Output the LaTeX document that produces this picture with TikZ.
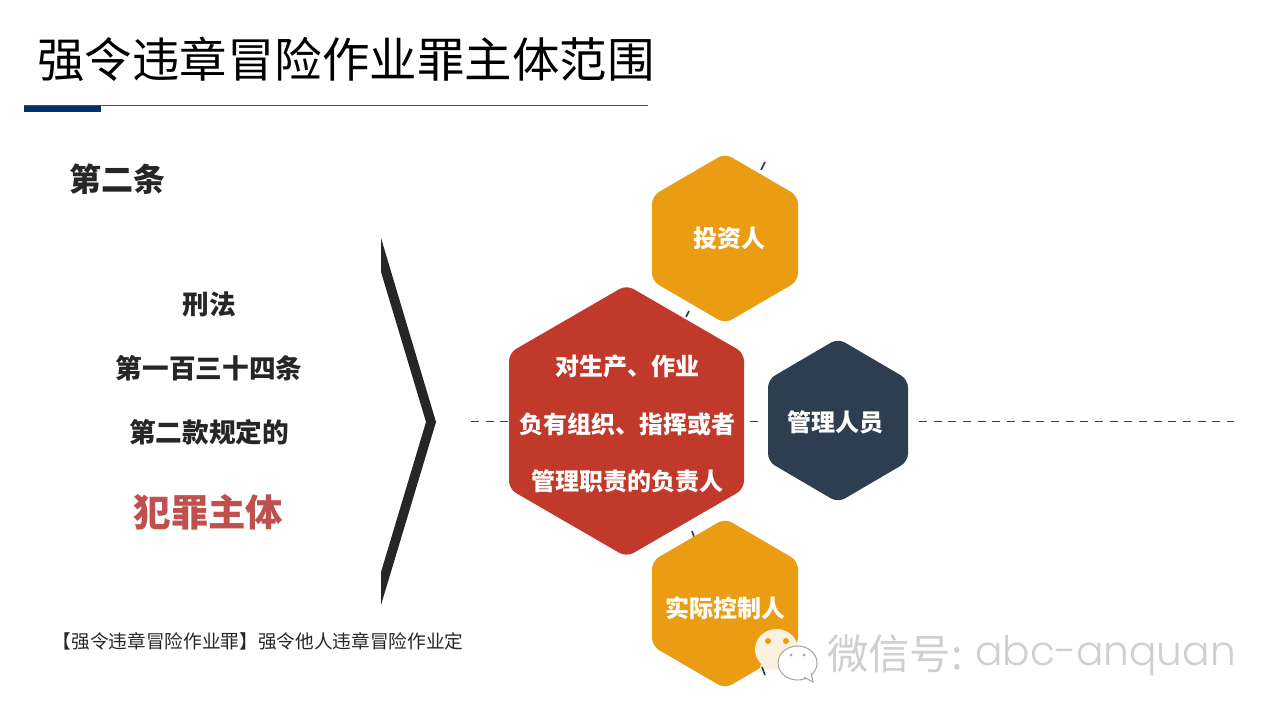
\documentclass[tikz,border=0pt]{standalone}
\usepackage{fontspec}
\setmainfont{Liberation Sans}
\newfontfamily\cjk{Noto Sans CJK SC}
\newfontfamily\latinwm{Poppins Light}
\definecolor{orangehex}{HTML}{EA9C13}
\definecolor{redhex}{HTML}{C0392B}
\definecolor{navyhex}{HTML}{2C3E50}
\definecolor{inkdark}{HTML}{262626}
\definecolor{barblue}{HTML}{002F6C}
\definecolor{crimson}{HTML}{C0504D}
\definecolor{wmgray}{HTML}{CFCFCF}
\definecolor{cream}{HTML}{FBF1DF}
\tikzset{
  x=0.75pt,y=-0.75pt,
  hexfill/.style={fill=#1,rounded corners=6pt,draw=none},
  hexlabel/.style={font=\cjk\bfseries\fontsize{18}{18}\selectfont,text=white,inner sep=0pt},
  bodytext/.style={font=\cjk\bfseries\fontsize{20}{20}\selectfont,text=inkdark,inner sep=0pt},
  tick/.style={draw=navyhex,line width=1.2pt},
  axis/.style={draw=navyhex,line width=1.3pt,dash pattern=on 6pt off 5pt},
}
\newcommand{\hexagon}[5]{% cx cy halfw halfh colour
  \path[hexfill=#5] (#1,#2-#4) -- (#1+#3,#2-#4/2) -- (#1+#3,#2+#4/2) -- (#1,#2+#4) -- (#1-#3,#2+#4/2) -- (#1-#3,#2-#4/2) -- cycle;
}
\begin{document}
\begin{tikzpicture}
\useasboundingbox[fill=white] (0,0) rectangle (1280,720);
% title
\node[anchor=center,inner sep=0pt,text=black,font=\cjk\fontsize{35.6}{36}\selectfont] (title) at (346,59) {强令违章冒险作业罪主体范围};
\draw[draw=black!70,line width=0.75pt] (24,106) -- (648,106);
\fill[barblue] (24,106) rectangle (101,112);
% left text
\node[bodytext,font=\cjk\bfseries\fontsize{24}{24}\selectfont] (art) at (117,179) {第二条};
\node[bodytext] (l1) at (209,304) {刑法};
\node[bodytext] (l2) at (209,368) {第一百三十四条};
\node[bodytext] (l3) at (209,432) {第二款规定的};
\node[bodytext,font=\cjk\bfseries\fontsize{28}{28}\selectfont,text=crimson] (l4) at (208.5,512) {犯罪主体};
\node[inner sep=0pt,text=inkdark,font=\cjk\fontsize{14}{14}\selectfont] (note) at (258,641) {【强令违章冒险作业罪】强令他人违章冒险作业定};
% chevron
\fill[inkdark] (381,238) -- (436,422) -- (381,605) -- (381,572) -- (426,422) -- (381,272) -- cycle;
% dashed axis and ticks
\draw[axis] (471,421.5) -- (760,421.5);
\draw[axis] (919,421.5) -- (1234,421.5);
\draw[tick] (761,170) -- (765,162);
\draw[tick] (686,317) -- (689,311);
\draw[tick] (692,531) -- (694,537);
% hexagons
\hexagon{725}{238.5}{73}{85}{orangehex}
\hexagon{725}{603.5}{73}{85}{orangehex}
\hexagon{838}{420.5}{70}{82}{navyhex}
\hexagon{626.5}{421}{117.5}{136}{redhex}
\node[hexlabel] (inv) at (729,238) {投资人};
\node[hexlabel] (ctl) at (725,608) {实际控制人};
\node[hexlabel] (mgr) at (835,422) {管理人员};
\node[hexlabel] (r1) at (627,366.5) {对生产、作业};
\node[hexlabel] (r2) at (627,424) {负有组织、指挥或者};
\node[hexlabel] (r3) at (627,481) {管理职责的负责人};
% watermark icon
\fill[cream] (776.5,649.5) ellipse [x radius=21.5, y radius=20.5];
\fill[cream] (762,660) -- (759,672) -- (775,668) -- cycle;
\draw[tick] (762,667) -- (765,675);
\fill[orangehex] (768,641) circle (3);
\fill[orangehex] (786,641) circle (3);
\draw[draw=gray!70,fill=white,line width=0.8pt] (797.5,663) ellipse [x radius=19.5, y radius=17];
\draw[draw=gray!70,fill=white,line width=0.8pt] (804,677) -- (813,682) -- (811,673);
\fill[white] (802,675) -- (811,680) -- (810,670) -- cycle;
\fill[gray!70] (791,655) circle (1.5);
\fill[gray!70] (804,655) circle (1.5);
% watermark text
\node[inner sep=0pt,text=wmgray,font=\cjk\fontsize{31}{31}\selectfont,anchor=west] (wm1) at (827,654) {微信号:};
\node[inner sep=0pt,text=wmgray,font=\latinwm\fontsize{30.5}{31}\selectfont,anchor=west] (wm2) at (975,656) {abc-anquan};
\end{tikzpicture}
\end{document}
